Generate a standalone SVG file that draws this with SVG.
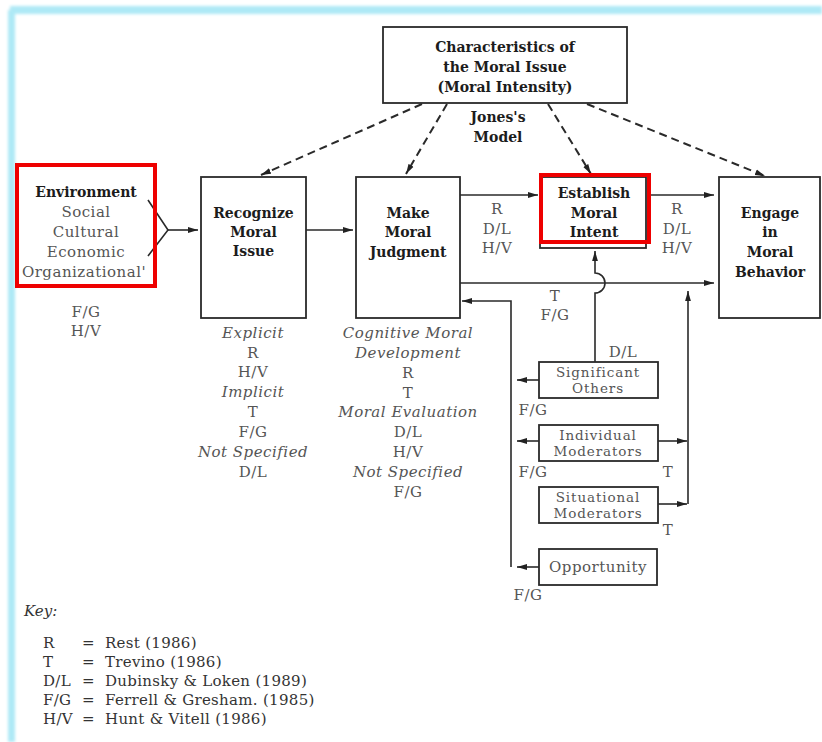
<svg xmlns="http://www.w3.org/2000/svg" width="822" height="742" viewBox="0 0 822 742">
  <defs>
    <filter id="soft" x="-5%" y="-50%" width="110%" height="200%">
      <feGaussianBlur stdDeviation="1.6"/>
    </filter>
    <marker id="arrow" markerUnits="userSpaceOnUse" markerWidth="11" markerHeight="7" refX="10" refY="3.5" orient="auto">
      <path d="M0,0.6 L10,3.5 L0,6.4 z" fill="#222"/>
    </marker>
    <style>
      .box { fill: #fff; stroke: #2a2a2a; stroke-width: 1.8; }
      .hl { fill: none; stroke: #ee0000; stroke-width: 4; }
      .b { font-family: "DejaVu Serif", "Liberation Serif", serif; font-weight: bold; font-size: 14px; fill: #1c1c1c; text-anchor: middle; }
      .t { font-family: "DejaVu Serif", "Liberation Serif", serif; font-size: 15px; letter-spacing: 0.5px; fill: #555; text-anchor: middle; }
      .s { font-family: "DejaVu Serif", "Liberation Serif", serif; font-size: 13.5px; letter-spacing: 0.9px; fill: #555; text-anchor: middle; }
      .i { font-family: "DejaVu Serif", "Liberation Serif", serif; font-style: italic; font-size: 15px; letter-spacing: 0.5px; fill: #555; text-anchor: middle; }
      .k { font-family: "DejaVu Serif", "Liberation Serif", serif; font-size: 15px; letter-spacing: 0.3px; fill: #333; }
      .ki { font-family: "DejaVu Serif", "Liberation Serif", serif; font-style: italic; font-size: 15px; fill: #333; }
      .ln { fill: none; stroke: #2a2a2a; stroke-width: 1.6; }
      .dash { fill: none; stroke: #2a2a2a; stroke-width: 2; stroke-dasharray: 8 5; }
    </style>
  </defs>

  <rect width="822" height="742" fill="#fff"/>
  <!-- cyan frame edge -->
  <g filter="url(#soft)" fill="#aee9f6">
    <rect x="10" y="6" width="812" height="8"/>
    <rect x="8" y="10" width="7" height="732"/>
  </g>

  <!-- connectors -->
  <g id="connectors">
    <path class="dash" d="M422,104 L261,175" marker-end="url(#arrow)"/>
    <path class="dash" d="M447,104 L406,174" marker-end="url(#arrow)"/>
    <path class="dash" d="M548,104 L591,174" marker-end="url(#arrow)"/>
    <path class="dash" d="M587,104 L765,176" marker-end="url(#arrow)"/>
    <path class="ln" d="M148,200 L168,230 L148,256"/>
    <path class="ln" d="M168,230 H198" marker-end="url(#arrow)"/>
    <path class="ln" d="M306,230 H353" marker-end="url(#arrow)"/>
    <path class="ln" d="M460,195 H538" marker-end="url(#arrow)"/>
    <path class="ln" d="M649,195 H714" marker-end="url(#arrow)"/>
    <path class="ln" d="M460,283 H714" marker-end="url(#arrow)"/>
    <path class="ln" d="M511,567 V301 H462" marker-end="url(#arrow)"/>
    <path class="ln" d="M595,362 V293 A10,10 0 0 0 595,273 V251" marker-end="url(#arrow)"/>
    <path class="ln" d="M539,380 H517" marker-end="url(#arrow)"/>
    <path class="ln" d="M539,441 H517" marker-end="url(#arrow)"/>
    <path class="ln" d="M539,567 H517" marker-end="url(#arrow)"/>
    <path class="ln" d="M658,441 H687" marker-end="url(#arrow)"/>
    <path class="ln" d="M658,504 H687" marker-end="url(#arrow)"/>
    <path class="ln" d="M688,504 V291" marker-end="url(#arrow)"/>
  </g>

  <!-- connector labels -->
  <g id="labels">
    <text class="b" x="498" y="122">Jones's</text>
    <text class="b" x="498" y="142">Model</text>
    <text class="t" x="497" y="214">R</text>
    <text class="t" x="497" y="234">D/L</text>
    <text class="t" x="497" y="253">H/V</text>
    <text class="t" x="677" y="214">R</text>
    <text class="t" x="677" y="234">D/L</text>
    <text class="t" x="677" y="253">H/V</text>
    <text class="t" x="555" y="301">T</text>
    <text class="t" x="555" y="320">F/G</text>
    <text class="t" x="623" y="357">D/L</text>
    <text class="t" x="533" y="415">F/G</text>
    <text class="t" x="533" y="477">F/G</text>
    <text class="t" x="668" y="477">T</text>
    <text class="t" x="668" y="535">T</text>
    <text class="t" x="528" y="600">F/G</text>
    <text class="t" x="86" y="317">F/G</text>
    <text class="t" x="86" y="336">H/V</text>
    <text class="i" x="253" y="338">Explicit</text>
    <text class="t" x="253" y="358">R</text>
    <text class="t" x="253" y="377">H/V</text>
    <text class="i" x="253" y="397">Implicit</text>
    <text class="t" x="253" y="417">T</text>
    <text class="t" x="253" y="437">F/G</text>
    <text class="i" x="253" y="457">Not Specified</text>
    <text class="t" x="253" y="477">D/L</text>
    <text class="i" x="408" y="338">Cognitive Moral</text>
    <text class="i" x="408" y="358">Development</text>
    <text class="t" x="408" y="378">R</text>
    <text class="t" x="408" y="398">T</text>
    <text class="i" x="408" y="417">Moral Evaluation</text>
    <text class="t" x="408" y="437">D/L</text>
    <text class="t" x="408" y="457">H/V</text>
    <text class="i" x="408" y="477">Not Specified</text>
    <text class="t" x="408" y="497">F/G</text>
  </g>

  <g id="moral-intensity">
    <rect class="box" x="383" y="27" width="244" height="76"/>
    <text class="b" x="505" y="52">Characteristics of</text>
    <text class="b" x="505" y="72">the Moral Issue</text>
    <text class="b" x="505" y="92">(Moral Intensity)</text>
  </g>

  <g id="environment">
    <rect class="hl" x="17" y="165" width="138" height="121"/>
    <text class="b" x="86" y="197">Environment</text>
    <text class="t" x="86" y="217">Social</text>
    <text class="t" x="86" y="237">Cultural</text>
    <text class="t" x="86" y="257">Economic</text>
    <text class="t" x="84" y="277">Organizational'</text>
  </g>

  <g id="recognize">
    <rect class="box" x="201" y="177" width="105" height="141"/>
    <text class="b" x="253.5" y="218">Recognize</text>
    <text class="b" x="253.5" y="237">Moral</text>
    <text class="b" x="253.5" y="256">Issue</text>
  </g>

  <g id="judgment">
    <rect class="box" x="356" y="177" width="104" height="141"/>
    <text class="b" x="408" y="218">Make</text>
    <text class="b" x="408" y="237">Moral</text>
    <text class="b" x="408" y="257">Judgment</text>
  </g>

  <g id="intent">
    <rect class="box" x="540" y="177" width="106" height="71"/>
    <rect class="hl" x="541" y="175" width="108" height="67"/>
    <text class="b" x="594" y="198">Establish</text>
    <text class="b" x="594" y="218">Moral</text>
    <text class="b" x="594" y="237">Intent</text>
  </g>

  <g id="behavior">
    <rect class="box" x="719" y="177" width="101" height="141"/>
    <text class="b" x="770" y="218">Engage</text>
    <text class="b" x="770" y="237">in</text>
    <text class="b" x="770" y="257">Moral</text>
    <text class="b" x="770" y="277">Behavior</text>
  </g>

  <g id="significant-others">
    <rect class="box" x="539" y="362" width="119" height="36"/>
    <text class="s" x="598" y="377">Significant</text>
    <text class="s" x="598" y="393">Others</text>
  </g>

  <g id="individual-moderators">
    <rect class="box" x="539" y="425" width="119" height="36"/>
    <text class="s" x="598" y="440">Individual</text>
    <text class="s" x="598" y="456">Moderators</text>
  </g>

  <g id="situational-moderators">
    <rect class="box" x="539" y="487" width="119" height="36"/>
    <text class="s" x="598" y="502">Situational</text>
    <text class="s" x="598" y="518">Moderators</text>
  </g>

  <g id="opportunity">
    <rect class="box" x="539" y="549" width="118" height="36"/>
    <text class="t" x="598" y="572">Opportunity</text>
  </g>

  <!-- key -->
  <g id="key">
    <text class="ki" x="24" y="616">Key:</text>
    <text class="k" x="43" y="648">R</text>
    <text class="k" x="82" y="648">=</text>
    <text class="k" x="105" y="648">Rest (1986)</text>
    <text class="k" x="43" y="667">T</text>
    <text class="k" x="82" y="667">=</text>
    <text class="k" x="105" y="667">Trevino (1986)</text>
    <text class="k" x="43" y="686">D/L</text>
    <text class="k" x="82" y="686">=</text>
    <text class="k" x="105" y="686">Dubinsky &amp; Loken (1989)</text>
    <text class="k" x="43" y="705">F/G</text>
    <text class="k" x="82" y="705">=</text>
    <text class="k" x="105" y="705">Ferrell &amp; Gresham. (1985)</text>
    <text class="k" x="43" y="724">H/V</text>
    <text class="k" x="82" y="724">=</text>
    <text class="k" x="105" y="724">Hunt &amp; Vitell (1986)</text>
  </g>
</svg>
